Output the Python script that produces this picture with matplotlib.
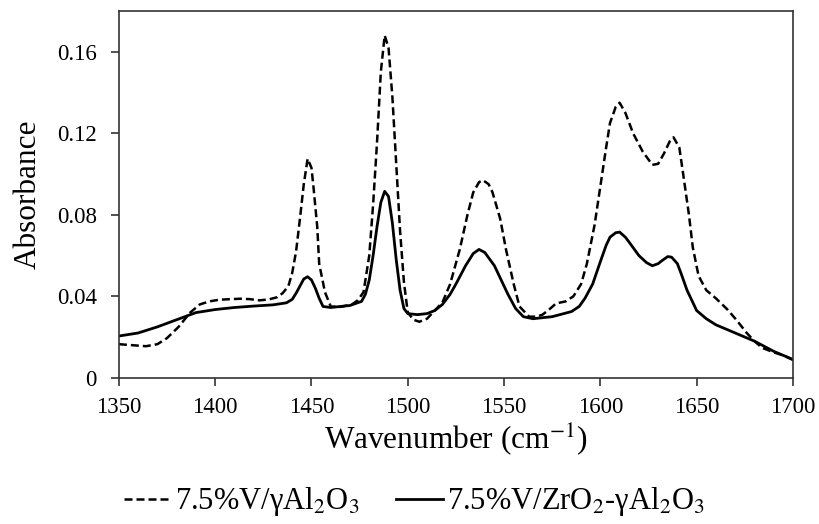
import numpy as np
import matplotlib
matplotlib.use("Agg")
from matplotlib import pyplot as plt

plt.rcParams['font.family'] = ['Liberation Serif', 'DejaVu Serif']
plt.rcParams['mathtext.fontset'] = 'stix'

# 7.5%V/gAl2O3 spectrum
wn_al = [1350, 1357, 1364, 1370, 1375, 1381, 1387, 1392, 1397, 1402, 1408, 1413, 1418,
         1423, 1428, 1432, 1435, 1438, 1440, 1442, 1444, 1446, 1448, 1450, 1451, 1453,
         1454, 1457, 1460, 1465, 1471, 1474, 1477, 1480, 1482, 1484, 1486, 1488, 1490,
         1492, 1494, 1496, 1498, 1500, 1503, 1506, 1510, 1513, 1518, 1522, 1527, 1531,
         1534, 1537, 1539, 1542, 1544, 1548, 1551, 1555, 1558, 1563, 1567, 1570, 1574,
         1577, 1582, 1586, 1590, 1593, 1597, 1600, 1603, 1605, 1608, 1610, 1613, 1617,
         1622, 1627, 1630, 1633, 1636, 1638, 1641, 1643, 1646, 1648, 1651, 1655, 1660,
         1666, 1671, 1676, 1680, 1684, 1690, 1695, 1700]
abs_al = [0.0165, 0.0160, 0.0155, 0.0165, 0.0195, 0.0250, 0.0320, 0.0360, 0.0375, 0.0383,
          0.0386, 0.0388, 0.0386, 0.0380, 0.0385, 0.0395, 0.0415, 0.0450, 0.0515, 0.0620,
          0.0780, 0.0950, 0.1075, 0.1030, 0.0940, 0.0740, 0.0560, 0.0420, 0.0350, 0.0348,
          0.0360, 0.0380, 0.0420, 0.0600, 0.0850, 0.1150, 0.1500, 0.1680, 0.1620, 0.1380,
          0.1050, 0.0720, 0.0470, 0.0320, 0.0285, 0.0275, 0.0290, 0.0320, 0.0370, 0.0460,
          0.0630, 0.0800, 0.0910, 0.0960, 0.0970, 0.0950, 0.0910, 0.0780, 0.0630, 0.0460,
          0.0350, 0.0300, 0.0300, 0.0310, 0.0340, 0.0365, 0.0375, 0.0400, 0.0460, 0.0560,
          0.0750, 0.0940, 0.1130, 0.1250, 0.1330, 0.1350, 0.1300, 0.1200, 0.1110, 0.1045,
          0.1050, 0.1100, 0.1160, 0.1180, 0.1130, 0.1000, 0.0800, 0.0640, 0.0500, 0.0430,
          0.0390, 0.0335, 0.0280, 0.0220, 0.0180, 0.0147, 0.0125, 0.0110, 0.0088]

# 7.5%V/ZrO2-gAl2O3 spectrum
wn_zr = [1350, 1360, 1370, 1380, 1390, 1400, 1410, 1420, 1430, 1437, 1440, 1442, 1444,
         1446, 1448, 1450, 1452, 1454, 1456, 1460, 1465, 1470, 1476, 1478, 1480, 1482,
         1484, 1486, 1488, 1490, 1492, 1494, 1496, 1498, 1500, 1505, 1510, 1514, 1518,
         1522, 1525, 1530, 1534, 1537, 1540, 1545, 1549, 1552, 1556, 1560, 1565, 1575,
         1585, 1589, 1592, 1596, 1600, 1603, 1605, 1608, 1610, 1613, 1615, 1620, 1624,
         1627, 1630, 1632, 1635, 1637, 1640, 1642, 1645, 1647, 1650, 1655, 1660, 1670,
         1680, 1690, 1700]
abs_zr = [0.0205, 0.0220, 0.0250, 0.0285, 0.0320, 0.0335, 0.0345, 0.0352, 0.0358, 0.0368,
          0.0385, 0.0415, 0.0450, 0.0485, 0.0496, 0.0480, 0.0440, 0.0390, 0.0350, 0.0345,
          0.0350, 0.0355, 0.0375, 0.0410, 0.0480, 0.0600, 0.0740, 0.0860, 0.0915, 0.0890,
          0.0760, 0.0580, 0.0430, 0.0340, 0.0315, 0.0310, 0.0315, 0.0330, 0.0360, 0.0410,
          0.0460, 0.0550, 0.0610, 0.0630, 0.0615, 0.0550, 0.0470, 0.0410, 0.0340, 0.0300,
          0.0290, 0.0300, 0.0325, 0.0350, 0.0390, 0.0460, 0.0570, 0.0650, 0.0690, 0.0712,
          0.0715, 0.0690, 0.0665, 0.0600, 0.0565, 0.0550, 0.0560, 0.0575, 0.0595, 0.0592,
          0.0560, 0.0510, 0.0430, 0.0390, 0.0330, 0.0290, 0.0260, 0.0220, 0.0180, 0.0130,
          0.0090]

xticks = [1350, 1400, 1450, 1500, 1550, 1600, 1650, 1700]
yticks = [0, 0.04, 0.08, 0.12, 0.16]
ytick_labels = ["0", "0.04", "0.08", "0.12", "0.16"]

fig = plt.figure(figsize=(8.2, 5.24), dpi=100)
ax = fig.add_axes([0.145, 0.279, 0.822, 0.700])

ax.plot(wn_al, abs_al, color="black", lw=1.8, ls=(0, (3.2, 1.6)),
        label="7.5%V/γAl$_2$O$_3$")
ax.plot(wn_zr, abs_zr, color="black", lw=2.0, ls="-",
        label="7.5%V/ZrO$_2$-γAl$_2$O$_3$")

ax.set_xlim(1350, 1700)
ax.set_ylim(0, 0.18)
ax.set_xticks(xticks)
ax.set_yticks(yticks)
ax.set_yticklabels(ytick_labels)
ax.tick_params(direction="out", length=6, width=1.2, labelsize=16.5, colors="#333333",
               labelcolor="black")
ax.tick_params(axis="x", pad=8)
ax.tick_params(axis="y", pad=10)
for s in ax.spines.values():
    s.set_linewidth(1.2)
    s.set_color("#333333")

ax.set_xlabel("Wavenumber (cm$^{-1}$)", fontsize=22.5, labelpad=2)
ax.set_ylabel("Absorbance", fontsize=22.5, labelpad=10)

fig.legend(loc="center", bbox_to_anchor=(0.5055, 0.042), ncol=2, frameon=False,
           fontsize=22, handlelength=1.55, handletextpad=0.12, columnspacing=1.2)

plt.savefig("out.png", dpi=100)
